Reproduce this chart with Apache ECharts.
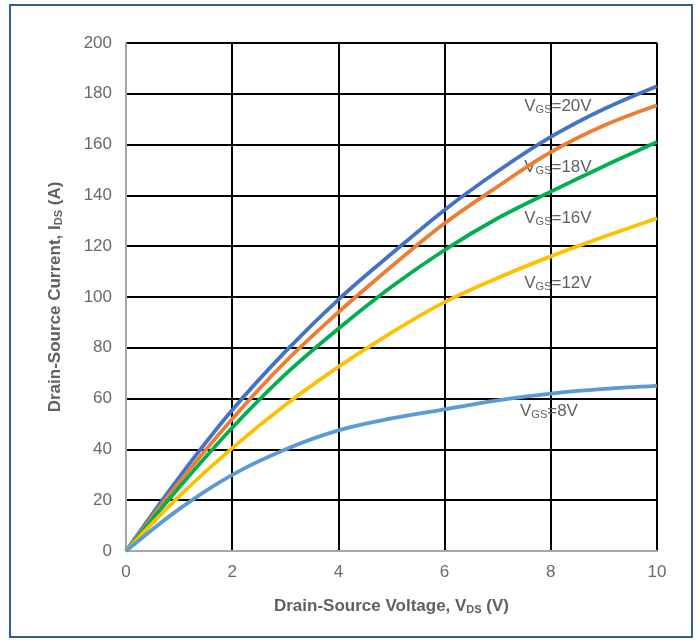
<!DOCTYPE html>
<html><head><meta charset="utf-8">
<script src="https://cdn.jsdelivr.net/npm/echarts@6/dist/echarts.min.js"></script>
<style>html,body{margin:0;padding:0;background:#fff}#c{width:700px;height:642px}
#frame{position:absolute;left:9px;top:4px;width:680px;height:630px;border:2px solid #2F5F98;pointer-events:none}</style>
</head><body><div id="c"></div><div id="frame"></div>
<script>
const vds = [0, 1, 2, 3, 4, 5, 6, 7, 8, 9, 10];
const id20 = [0, 29, 55.5, 78.5, 99, 117, 134.3, 149.5, 163, 174, 183];
const id18 = [0, 27, 52, 74.5, 94, 112, 129, 143.5, 157, 167.5, 175.5];
const id16 = [0, 25, 48.5, 69.5, 87.5, 104, 118.5, 131, 141.5, 151.5, 161];
const id12 = [0, 21.5, 40.5, 57.5, 72.5, 86, 98, 107.5, 116, 123.7, 131];
const id8  = [0, 16.5, 30, 40, 47.5, 52.2, 55.8, 59.3, 62, 63.8, 65];
const xTicks = [0, 2, 4, 6, 8, 10];
const yTicks = [0, 20, 40, 60, 80, 100, 120, 140, 160, 180, 200];
const seriesNames = ['20', '18', '16', '12', '8'];
const seriesData = [id20, id18, id16, id12, id8];
const colors = ['#4472C4', '#ED7D31', '#00B050', '#FFC000', '#5B9BD5'];
// label anchors (data coords) for the VGS annotations
const labelAnchors = [[7.5, 175], [7.5, 151], [7.5, 131], [7.5, 105.5], [7.42, 55]];

const chart = echarts.init(document.getElementById('c'), null, {renderer: 'canvas'});
const FONT = 'Liberation Sans';
const gray = '#606060';
const series = seriesData.map((d, i) => ({
  name: 'VGS=' + seriesNames[i] + 'V',
  type: 'line',
  smooth: 0.35,
  symbol: 'none',
  data: vds.map((x, j) => [x, d[j]]),
  lineStyle: {color: colors[i], width: 3.8},
  z: 5,
  markPoint: {
    symbol: 'circle', symbolSize: 0, silent: true,
    data: [{coord: labelAnchors[i], value: seriesNames[i]}],
    label: {
      show: true, position: 'right', distance: 0,
      formatter: 'V{s|GS}=' + seriesNames[i] + 'V',
      color: gray, fontFamily: FONT, fontSize: 17,
      rich: {s: {fontSize: 11, color: gray, fontFamily: FONT, verticalAlign: 'bottom', padding: [7, 0, 0, 0]}}
    }
  }
}));
chart.setOption({
  animation: false,
  grid: {left: 126, right: 43, top: 43, bottom: 91},
  xAxis: {
    type: 'value', min: 0, max: 10, interval: 2,
    name: 'Drain-Source Voltage, V{s|DS} (V)', nameLocation: 'middle', nameGap: 46,
    nameTextStyle: {color: gray, fontFamily: FONT, fontSize: 17, fontWeight: 'bold',
      rich: {s: {fontSize: 11, fontWeight: 'bold', color: gray, fontFamily: FONT, verticalAlign: 'bottom', padding: [7, 0, 0, 0]}}},
    axisLine: {show: true, lineStyle: {color: '#A6A6A6', width: 2}},
    axisTick: {show: false},
    axisLabel: {color: '#6a6a6a', fontFamily: FONT, fontSize: 17, margin: 13,
      formatter: v => xTicks.includes(v) ? String(v) : ''},
    splitLine: {show: true, lineStyle: {color: '#000', width: 2}}
  },
  yAxis: {
    type: 'value', min: 0, max: 200, interval: 20,
    name: 'Drain-Source Current, I{s|DS} (A)', nameLocation: 'middle', nameGap: 62, nameRotate: 90,
    nameTextStyle: {color: gray, fontFamily: FONT, fontSize: 17, fontWeight: 'bold',
      rich: {s: {fontSize: 11, fontWeight: 'bold', color: gray, fontFamily: FONT, verticalAlign: 'bottom', padding: [7, 0, 0, 0]}}},
    axisLine: {show: true, lineStyle: {color: '#A6A6A6', width: 2}},
    axisTick: {show: false},
    axisLabel: {color: '#6a6a6a', fontFamily: FONT, fontSize: 17, margin: 14,
      formatter: v => yTicks.includes(v) ? String(v) : ''},
    splitLine: {show: true, lineStyle: {color: '#000', width: 2}}
  },
  series: series
});
</script></body></html>
